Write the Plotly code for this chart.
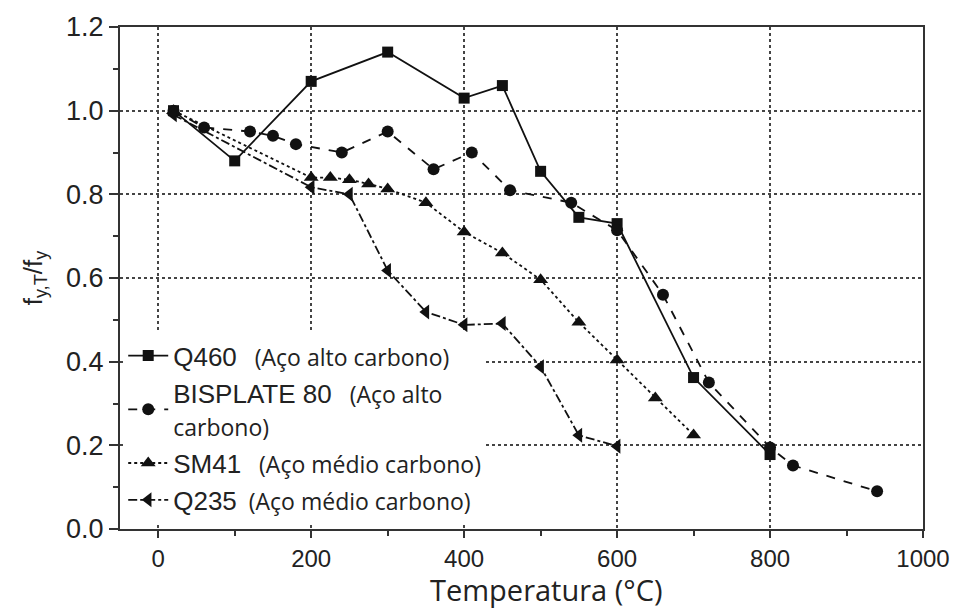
import plotly.graph_objects as go

# ---- data ----
q460_T = [20, 100, 200, 300, 400, 450, 500, 550, 600, 700, 800]
q460_v = [1.00, 0.88, 1.07, 1.14, 1.03, 1.06, 0.855, 0.745, 0.73, 0.362, 0.178]

bis_T = [20, 60, 120, 150, 180, 240, 300, 360, 410, 460, 540, 600, 660, 720, 800, 830, 940]
bis_v = [1.00, 0.96, 0.95, 0.94, 0.92, 0.90, 0.95, 0.86, 0.90, 0.81, 0.78, 0.714, 0.56, 0.35, 0.195, 0.152, 0.09]

sm41_T = [20, 200, 225, 250, 275, 300, 350, 400, 450, 500, 550, 600, 650, 700]
sm41_v = [1.00, 0.84, 0.84, 0.835, 0.825, 0.813, 0.78, 0.71, 0.66, 0.596, 0.494, 0.404, 0.313, 0.225]

q235_T = [20, 200, 250, 300, 350, 400, 450, 500, 550, 600]
q235_v = [0.99, 0.817, 0.80, 0.618, 0.519, 0.488, 0.491, 0.388, 0.224, 0.198]

x_title = "Temperatura (°C)"
y_title = "f<sub>y,T</sub>/f<sub>y</sub>"

SAN = "Liberation Sans, Arial, sans-serif"
ALT = "Open Sans, Noto Sans, sans-serif"

def lbl(name, extra):
    return name + '<span style="font-family:Open Sans; font-size:23px">' + extra + '</span>'

names = [
    lbl("Q460", "   (Aço alto carbono)"),
    lbl("BISPLATE 80", "   (Aço alto<br>carbono)"),
    lbl("SM41", "   (Aço médio carbono)"),
    lbl("Q235", "  (Aço médio carbono)"),
]

series = [
    (q460_T, q460_v, "solid", "square", 11),
    (bis_T, bis_v, "dash", "circle", 12),
    (sm41_T, sm41_v, "dot", "triangle-up", 13),
    (q235_T, q235_v, "dashdot", "triangle-left", 13),
]

fig = go.Figure()
for (T, v, dash, sym, sz), nm in zip(series, names):
    fig.add_trace(go.Scatter(
        x=T, y=v, mode="lines+markers", name=nm,
        line=dict(color="#111111", width=1.8, dash=dash),
        marker=dict(symbol=sym, size=sz, color="#111111"),
    ))

fig.add_annotation(
    text=x_title, xref="paper", yref="paper", x=0.531, y=-0.162,
    xanchor="center", yanchor="bottom", showarrow=False, borderpad=0,
    font=dict(family=ALT, size=29, color="#222"),
)

fig.update_layout(
    width=962, height=611,
    margin=dict(l=120, r=38, t=25, b=82),
    paper_bgcolor="white", plot_bgcolor="white",
    font=dict(family=SAN, color="#222222"),
    showlegend=True,
    legend=dict(
        x=0.004, y=0.392, xanchor="left", yanchor="top",
        bgcolor="white", borderwidth=0,
        font=dict(family=SAN, size=26, color="#222222"),
        itemwidth=40, tracegroupgap=0,
    ),
    xaxis=dict(
        range=[-50, 1000], tickvals=[0, 200, 400, 600, 800, 1000],
        ticks="outside", ticklen=7, tickwidth=1.5, tickcolor="#333",
        tickfont=dict(family=SAN, size=24, color="#222"),
        showline=True, linecolor="#333", linewidth=2, mirror=True,
        showgrid=True, gridcolor="#444", griddash="dot", gridwidth=1.5,
        minor=dict(tickvals=[100, 300, 500, 700, 900], ticks="outside", ticklen=5,
                   tickcolor="#333", showgrid=False),
        zeroline=False,
    ),
    yaxis=dict(
        range=[0, 1.2], tickvals=[0, 0.2, 0.4, 0.6, 0.8, 1.0, 1.2], tickformat=".1f",
        ticks="outside", ticklen=9, tickwidth=1.5, tickcolor="#333",
        tickfont=dict(family=SAN, size=27, color="#222"),
        showline=True, linecolor="#333", linewidth=2, mirror=True,
        showgrid=True, gridcolor="#444", griddash="dot", gridwidth=1.5,
        minor=dict(tickvals=[0.1, 0.3, 0.5, 0.7, 0.9, 1.1], ticks="outside", ticklen=5,
                   tickcolor="#333", showgrid=False),
        zeroline=False,
        title=dict(text=y_title, font=dict(family=SAN, size=26, color="#222"),
                   standoff=16),
    ),
)

fig.write_html("out.html")
